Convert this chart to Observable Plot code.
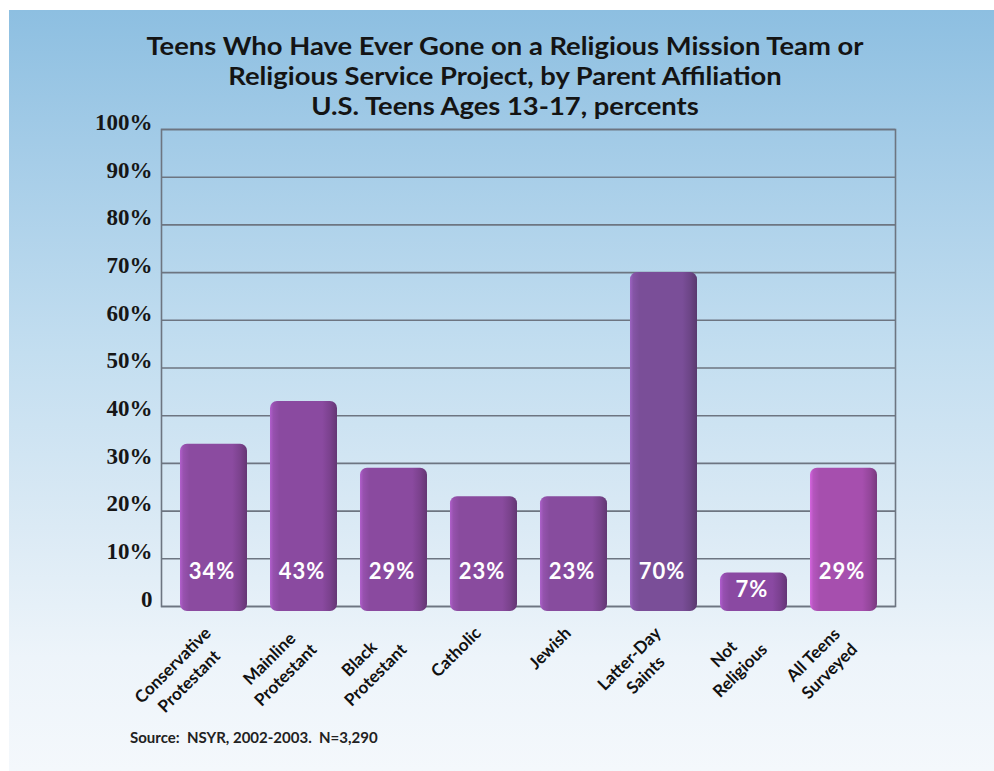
<!DOCTYPE html>
<html>
<head>
<meta charset="utf-8">
<script src="https://cdn.jsdelivr.net/npm/d3@7"></script>
<script src="https://cdn.jsdelivr.net/npm/@observablehq/plot@0.6"></script>
<style>
  html, body { margin: 0; padding: 0; background: #ffffff; }
  #page { position: relative; width: 994px; height: 771px; overflow: hidden; background: #ffffff; }
  #panel { position: absolute; left: 9px; top: 10px; width: 985px; height: 761px;
    background: linear-gradient(to bottom, #8dbfe1 0%, #a6cde8 20%, #c3def0 45%, #dbeaf5 68%, #edf4fa 85%, #f4f8fc 100%); }
  #title { position: absolute; left: 8px; width: 994px; top: 30px; text-align: center;
    font-family: Lato, sans-serif; font-weight: bold;
    font-size: 25px; line-height: 30px; color: #141414; transform-origin: 50% 0; }
  #title div { height: 30px; white-space: nowrap; }
  #chart { position: absolute; left: 0; top: 105px; }
  #source { position: absolute; left: 130px; top: 728px; white-space: pre;
    font-family: Lato, sans-serif; font-weight: bold; font-size: 15px; color: #222; }
</style>
</head>
<body>
<div id="page">
  <div id="panel"></div>
  <div id="title">
    <div><span id="t1">Teens Who Have Ever Gone on a Religious Mission Team or</span></div>
    <div><span>Religious Service Project, by Parent Affiliation</span></div>
    <div><span>U.S. Teens Ages 13-17, percents</span></div>
  </div>
  <div id="chart"></div>
  <div id="source">Source:  NSYR, 2002-2003.  N=3,290</div>
</div>
<script>
// ---- data ----
const categories = [
  "Conservative\nProtestant",
  "Mainline\nProtestant",
  "Black\nProtestant",
  "Catholic",
  "Jewish",
  "Latter-Day\nSaints",
  "Not\nReligious",
  "All Teens\nSurveyed"
];
const percents = [34, 43, 29, 23, 23, 70, 7, 29];
const yTicks = [0, 10, 20, 30, 40, 50, 60, 70, 80, 90, 100];
const yTickLabels = ["0", "10%", "20%", "30%", "40%", "50%", "60%", "70%", "80%", "90%", "100%"];

// ---- styles (kept separate from data) ----
const barColors = ["#8b4ba0", "#8a4aa0", "#8a4a9f", "#894b9e", "#874c9e", "#7a4e98", "#8a49a2", "#a64fae"];

const data = categories.map((c, i) => ({category: c, value: percents[i], idx: i}));
const tickData = yTicks.map((t, i) => ({t, label: yTickLabels[i]}));

// condense the title to the reference's width
const t1 = document.getElementById("t1");
const sx = 717 / t1.getBoundingClientRect().width;
document.getElementById("title").style.transform = `scaleX(${sx})`;

const svg = Plot.plot({
  width: 994,
  height: 620,
  marginTop: 24,
  marginBottom: 119,
  marginLeft: 161,
  marginRight: 99,
  style: {background: "transparent", overflow: "visible"},
  x: {domain: categories, paddingInner: 0.256, paddingOuter: 0.2, axis: null},
  y: {domain: [0, 100], axis: null},
  color: {type: "identity"},
  marks: [
    Plot.ruleY(yTicks, {stroke: "#6d7581", strokeWidth: 1.6}),
    Plot.frame({stroke: "#6d7581", strokeWidth: 1.6}),
    Plot.text(tickData, {
      y: "t", text: "label", frameAnchor: "left", dx: -9, dy: -7, textAnchor: "end",
      fontFamily: "'Liberation Serif', serif", fontWeight: "bold", fontSize: 23, fill: "#161616"
    }),
    Plot.barY(data, {
      x: "category", y: "value", fill: d => `url(#barGrad${d.idx})`,
      rx: 7, insetBottom: -5
    }),
    Plot.text(data, {
      x: "category", y: d => Math.min(d.value / 2, 7.2), text: d => d.value + "%",
      fill: "white", fontFamily: "Lato, sans-serif", fontWeight: "bold", fontSize: 22, dx: -2,
      className: "vlab"
    }),
    Plot.text(data, {
      x: "category", y: 0, text: "category", rotate: -45, textAnchor: "middle", lineAnchor: "top",
      lineHeight: 1.35, fontFamily: "Lato, sans-serif", fontWeight: "bold", fontSize: 17, fill: "#111111",
      className: "xlab"
    })
  ]
});

document.getElementById("chart").appendChild(svg);

// gradient defs for the 3D-looking bars
const defs = d3.select(svg).insert("defs", ":first-child");
barColors.forEach((c, i) => {
  const base = d3.color(c);
  const g = defs.append("linearGradient").attr("id", "barGrad" + i)
    .attr("x1", "0").attr("x2", "1").attr("y1", "0").attr("y2", "0");
  const stops = [
    [0, base.brighter(0.7)],
    [0.05, base.brighter(0.25)],
    [0.14, base],
    [0.78, base],
    [0.9, base.darker(0.35)],
    [1, base.darker(0.9)]
  ];
  stops.forEach(([o, col]) => g.append("stop").attr("offset", o).attr("stop-color", col.formatHex()));
});

d3.select(svg).selectAll("g.vlab text").style("letter-spacing", "1px");

// place rotated category labels: block right edge near the tick, lines centered
d3.select(svg).selectAll("g.xlab text").each(function () {
  const t = this.getAttribute("transform") || "";
  const m = t.match(/translate\(([-\d.]+),\s*([-\d.]+)\)/);
  if (!m) return;
  const X = +m[1], Y = +m[2];
  const bb = this.getBBox();
  const tx = -21 - (bb.x + bb.width);
  const ty = 8 - 17 * 0.36;
  this.setAttribute("transform", `translate(${X},${Y}) rotate(-45) translate(${tx},${ty})`);
});
</script>
</body>
</html>
